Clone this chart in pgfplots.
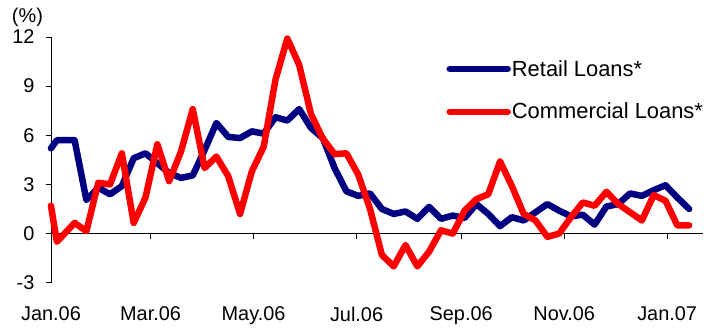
\documentclass[border=0pt]{standalone}
\usepackage{fontspec}
\setmainfont{Liberation Sans}
\usepackage{pgfplots}
\usepackage{pgfplotstable}
\pgfplotsset{compat=1.18}
\definecolor{navy}{RGB}{0,0,128}
\pgfplotstableread{
x retail commercial
0 5.2 1.7
0.5 5.7 -0.5
2 5.7 0.65
3 2.05 0.15
4 2.8 3.1
5 2.4 3.0
6 2.9 4.9
7 4.6 0.65
8 4.9 2.2
9 4.3 5.45
10 3.7 3.2
11 3.4 5.0
12 3.55 7.6
13 5.1 4.0
14 6.75 4.7
15 5.9 3.5
16 5.83 1.2
17 6.24 3.8
18 6.1 5.3
19 7.1 9.4
20 6.9 11.9
21 7.6 10.3
22 6.45 7.3
23 5.83 5.8
24 4.0 4.85
25 2.58 4.9
26 2.3 3.6
27 2.45 1.5
28 1.5 -1.3
29 1.2 -2.0
30 1.35 -0.7
31 0.9 -2.0
32 1.63 -1.1
33 0.9 0.2
34 1.1 0.0
35 0.95 1.4
36 1.8 2.1
37 1.2 2.4
38 0.45 4.4
39 1.0 2.9
40 0.8 1.2
41 1.3 0.8
42 1.8 -0.2
43 1.4 0.0
44 1.05 1.0
45 1.15 1.9
46 0.55 1.7
47 1.65 2.55
48 1.8 1.8
49 2.45 1.3
50 2.3 0.8
51 2.65 2.35
52 2.95 2.0
53 2.2 0.5
54 1.5 0.5
}\loandata
\begin{document}
\begin{tikzpicture}
\begin{axis}[
  scale only axis,
  width=653bp, height=246bp,
  xmin=0, xmax=55.2,
  ymin=-3, ymax=12,
  clip=false,
  axis x line=middle,
  axis y line=left,
  hide obscured x ticks=false,
  hide obscured y ticks=false,
  axis line style={-, black, line width=0.6bp},
  tick align=outside,
  major tick length=5bp,
  tick style={black, line width=0.6bp},
  xtick={0,8.43,17.14,25.86,34.71,43.43,52.14},
  xticklabels={Jan.06,Mar.06,May.06,Jul.06,Sep.06,Nov.06,Jan.07},
  ytick={-3,0,3,6,9,12},
  /pgf/number format/assume math mode=true,
  tick label style={font=\fontsize{20}{24}\selectfont},
  xticklabel style={yshift=-65bp},
  yticklabel style={xshift=-8bp},
  legend style={at={(rel axis cs:0.606,0.91)}, anchor=north west, draw=none, fill=none,
    font=\fontsize{22}{26}\selectfont, row sep=23.5bp, inner sep=0pt,
    nodes={inner sep=1bp}},
  legend cell align=left,
  legend image code/.code={\draw[#1] (0bp,0bp) -- (58bp,0bp);},
]
\addplot[navy, line width=6.5bp, line join=round, line cap=round] table[x=x, y=retail] {\loandata};
\addlegendentry{Retail Loans*}
\addplot[red, line width=6.5bp, line join=round, line cap=round] table[x=x, y=commercial] {\loandata};
\addlegendentry{Commercial Loans*}
\coordinate (bl) at (rel axis cs:0,0);
\end{axis}
\node[font=\fontsize{20}{24}\selectfont] at ([xshift=-23.5bp,yshift=266bp]bl) {(\%)};
\path ([xshift=-51bp,yshift=-43bp]bl) rectangle ([xshift=653bp,yshift=283bp]bl);
\end{tikzpicture}
\end{document}
